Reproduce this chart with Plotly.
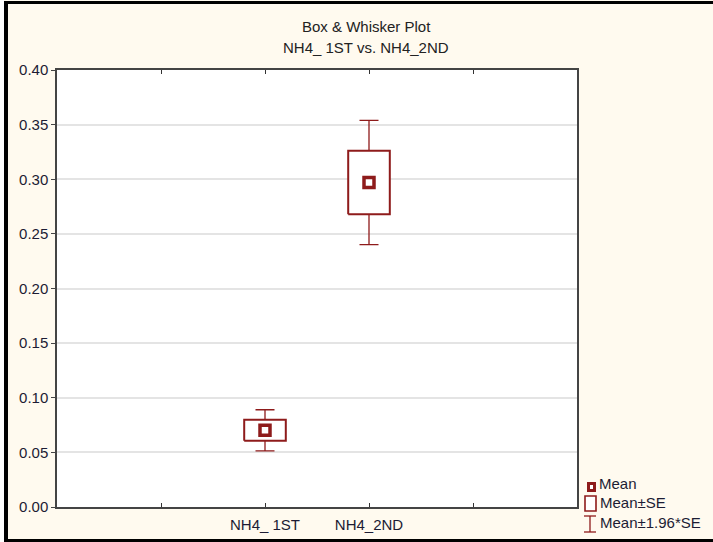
import plotly.graph_objects as go

# ---- data ----
categories = ["NH4_ 1ST", "NH4_2ND"]
means = [0.0702, 0.2970]
se = [0.0096, 0.0290]
x_positions = [2, 3]
axis_ticks = [1, 2, 3, 4]
axis_tick_labels = ["", "NH4_ 1ST", "NH4_2ND", ""]
y_ticks = [0.00, 0.05, 0.10, 0.15, 0.20, 0.25, 0.30, 0.35, 0.40]
legend_labels = ["Mean", "Mean±SE", "Mean±1.96*SE"]

RED = "#8e1b1b"
TXT = "#1c1c34"
CREAM = "#fffaef"
FONT = "Liberation Sans, Arial, sans-serif"

W, H = 713, 542
L, R, T, B = 57, 577, 70, 507  # plot area in px

def px_x(px):
    return (px - L) / (R - L)

def px_y(py):
    return (B - py) / (B - T)

box_half = 0.2

fig = go.Figure()

# whiskers (mean ± 1.96*SE) as error bars
fig.add_trace(go.Scatter(
    x=x_positions, y=means, mode="markers",
    marker=dict(size=1, color="rgba(0,0,0,0)"),
    error_y=dict(type="data", array=[1.96 * s for s in se], visible=True,
                 color=RED, thickness=1.3, width=9.5),
    showlegend=False, hoverinfo="skip"))

# boxes (mean ± SE)
bx, by = [], []
for xp, m, s in zip(x_positions, means, se):
    lo, hi = m - s, m + s
    bx += [xp - box_half, xp + box_half, xp + box_half, xp - box_half, xp - box_half, None]
    by += [lo, lo, hi, hi, lo, None]
fig.add_trace(go.Scatter(
    x=bx, y=by, mode="lines", fill="toself", fillcolor="white",
    line=dict(color=RED, width=2), showlegend=False, hoverinfo="skip"))

# mean markers
fig.add_trace(go.Scatter(
    x=x_positions, y=means, mode="markers",
    marker=dict(symbol="square", size=10, color="white",
                line=dict(color=RED, width=3.5)),
    showlegend=False))

shapes = []
# black frame
for x0, x1, y0, y1, c in [(4, 8, 1, 541, "black"), (4, W, 1, 4, "black"),
                          (4, W, 539, 542, "black"), (0, 4, 0, H, "white")]:
    shapes.append(dict(type="rect", xref="paper", yref="paper",
                       x0=px_x(x0), x1=px_x(x1), y0=px_y(y1), y1=px_y(y0),
                       fillcolor=c, line=dict(width=0), layer="above"))

# legend symbols
shapes.append(dict(type="rect", xref="paper", yref="paper",
                   x0=px_x(588.5), x1=px_x(594.5), y0=px_y(490.5), y1=px_y(483.5),
                   fillcolor="white", line=dict(color=RED, width=3)))
shapes.append(dict(type="rect", xref="paper", yref="paper",
                   x0=px_x(585), x1=px_x(596), y0=px_y(511), y1=px_y(496),
                   fillcolor="white", line=dict(color=RED, width=1.6)))
shapes.append(dict(type="line", xref="paper", yref="paper",
                   x0=px_x(590), x1=px_x(590), y0=px_y(532), y1=px_y(516),
                   line=dict(color=RED, width=1.3)))
for yy in (516, 532):
    shapes.append(dict(type="line", xref="paper", yref="paper",
                       x0=px_x(584), x1=px_x(596), y0=px_y(yy), y1=px_y(yy),
                       line=dict(color=RED, width=1.3)))

annotations = []
for lbl, yy, xx in zip(legend_labels, [483, 502, 522], [597, 598, 598]):
    annotations.append(dict(text=lbl, xref="paper", yref="paper",
                            x=px_x(xx), y=px_y(yy), xanchor="left", yanchor="middle",
                            showarrow=False, font=dict(size=15, color=TXT, family=FONT)))
for t, yy in [("Box & Whisker Plot", 26), ("NH4_ 1ST vs. NH4_2ND", 47)]:
    annotations.append(dict(text=t, xref="paper", yref="paper",
                            x=px_x(366), y=px_y(yy), xanchor="center", yanchor="middle",
                            showarrow=False, font=dict(size=15, color="#222", family=FONT)))

fig.update_layout(
    width=W, height=H,
    margin=dict(l=L, r=W - R, t=T, b=H - B, pad=0, autoexpand=False),
    paper_bgcolor=CREAM, plot_bgcolor="white",
    font=dict(family=FONT, size=15, color=TXT),
    xaxis=dict(range=[0, 5], tickmode="array", tickvals=axis_ticks,
               ticktext=axis_tick_labels, ticks="inside", ticklen=4,
               tickcolor="#333", showgrid=False, zeroline=False,
               showline=True, linecolor="#444", linewidth=1.5, mirror="ticks",
               ticklabelstandoff=3, automargin=False,
               tickfont=dict(size=15, color=TXT)),
    yaxis=dict(range=[0, 0.40], tickmode="array", tickvals=y_ticks,
               ticktext=[f"{v:.2f}" for v in y_ticks], ticks="outside", ticklen=4,
               tickcolor="#444", showgrid=True, gridcolor="#e4e4e4", gridwidth=1.5,
               zeroline=False, showline=True, linecolor="#444", linewidth=1.5,
               mirror=True, automargin=False, tickfont=dict(size=15, color=TXT)),
    shapes=shapes, annotations=annotations, showlegend=False,
)

fig.write_html("out.html")
